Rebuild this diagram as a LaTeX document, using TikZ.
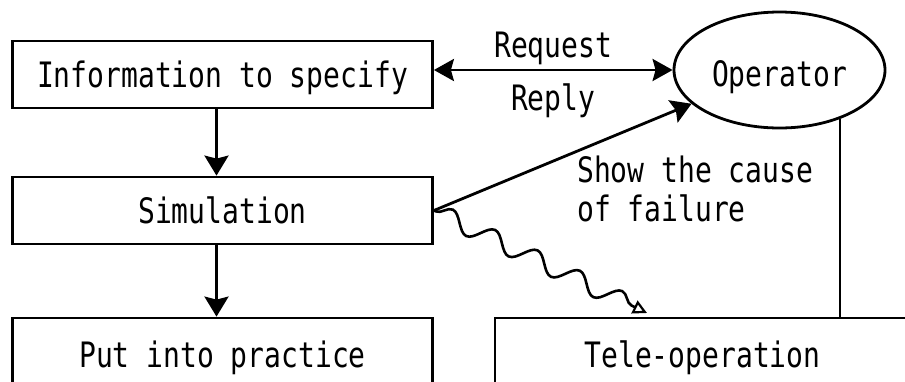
\documentclass[tikz,border=0pt]{standalone}
\usepackage{fontspec}
\usetikzlibrary{arrows.meta,shapes.geometric,decorations.pathmorphing}
\newfontfamily\diagfont[FakeStretch=0.8]{DejaVu Sans Mono}
\tikzset{
  every node/.style={font=\diagfont\fontsize{35}{39}\selectfont},
  stepbox/.style={draw, rectangle, line width=2.8pt, inner sep=0pt,
    minimum width=420pt, text height=25pt, text depth=0pt},
  agent/.style={draw, ellipse, line width=2.8pt, inner sep=0pt,
    minimum width=211pt, minimum height=116pt, text height=33pt, text depth=0pt},
  flow/.style={line width=2.8pt, -{Stealth[length=20pt,width=24pt,inset=3pt]}},
  both/.style={line width=2.8pt, {Stealth[length=20pt,width=22pt,inset=3pt]}-{Stealth[length=20pt,width=22pt,inset=3pt]}},
  wave/.style={line width=2.6pt, decorate,
    decoration={snake, segment length=47pt, amplitude=9pt, pre length=2pt, post length=14pt},
    -{Triangle[open,length=14pt,width=14pt,line width=2.2pt]}},
  plain/.style={line width=2.6pt}
}
\begin{document}
\begin{tikzpicture}[x=1pt,y=-1pt]
  \useasboundingbox (0,0) rectangle (905,381);
  \clip (0,0) rectangle (905,381);

  % left column of process steps
  \node[stepbox, minimum height=67pt] (info) at (222.5,74.5) {Information to specify};
  \node[stepbox, minimum height=67pt] (sim) at (222.5,210.5) {Simulation};
  \node[stepbox, minimum height=73pt] (prac) at (222.5,354.5) {Put into practice};

  % operator and remote operation
  \node[agent] (op) at (779.5,70) {Operator};
  \node[stepbox, minimum width=415pt, minimum height=73pt] (tele) at (702.5,354.5) {Tele-operation};
  \coordinate (wend) at (647,313);

  % connectors
  \draw[flow] ([xshift=-6pt]info.south) -- ([xshift=-6pt]sim.north);
  \draw[flow] ([xshift=-6pt]sim.south) -- ([xshift=-6pt]prac.north);
  \draw[both] (info.east |- op.west) --
    node[anchor=base, yshift=13pt] (req) {Request}
    node[anchor=base, yshift=-40pt] (rep) {Reply} (op.west);
  \draw[flow] (sim.east) -- (op.201.7);
  \draw[wave] (sim.east) -- (wend);
  \draw[plain] (op.-39.8) -- (op.-39.8 |- tele.north);

  \node[anchor=north west, align=left, inner sep=0pt] (cause) at (577,156)
    {Show the cause\\of failure};
\end{tikzpicture}
\end{document}
